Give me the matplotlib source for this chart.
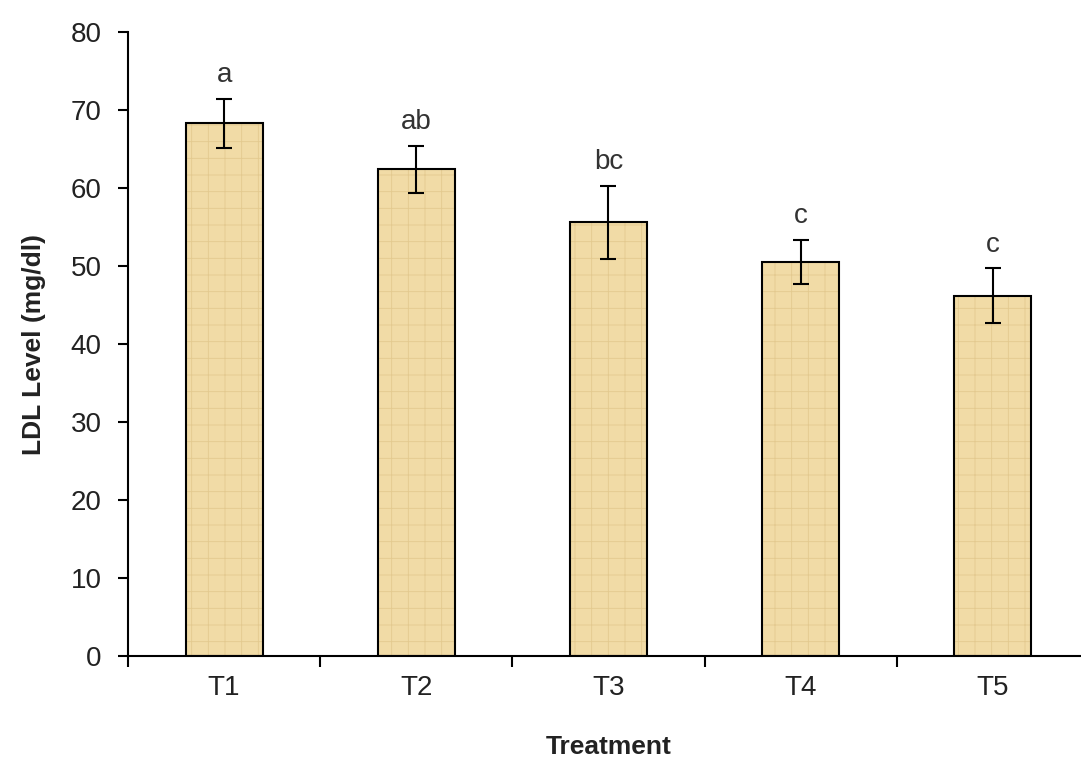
import matplotlib.pyplot as plt
import numpy as np

plt.rcParams['font.family'] = ['Liberation Sans', 'DejaVu Sans']
plt.rcParams['hatch.linewidth'] = 0.6

treatments = ["T1", "T2", "T3", "T4", "T5"]
ldl_mean = [68.3, 62.4, 55.6, 50.5, 46.2]
ldl_se = [3.1, 3.05, 4.7, 2.8, 3.5]
letters = ["a", "ab", "bc", "c", "c"]


def draw_chart():
    fig = plt.figure(figsize=[10.81, 7.66], dpi=100)
    ax = fig.add_axes([0.1184, 0.1436, 0.889, 0.8144])

    x = np.arange(len(treatments))

    # textured fill, then a plain black outline on top
    ax.bar(x, ldl_mean, width=0.4, color='#F1DBA6', edgecolor='#E3C98F',
           hatch='+', linewidth=0, zorder=2)
    ax.bar(x, ldl_mean, width=0.4, color='none', edgecolor='k',
           linewidth=1.5, zorder=3)

    ax.errorbar(x, ldl_mean, yerr=ldl_se, fmt='none', ecolor='k',
                elinewidth=1.5, capsize=6, capthick=1.5, zorder=4)

    for xi, m, s, lab in zip(x, ldl_mean, ldl_se, letters):
        ax.text(xi, m + s + 1.4, lab, ha='center', va='bottom', fontsize=20,
                color='#333333')

    ax.set_xlim(-0.5, 4.5)
    ax.set_ylim(0, 80)
    ax.set_yticks(range(0, 81, 10))

    ax.set_xticks(x)
    ax.set_xticklabels(treatments)
    ax.set_xticks(np.arange(-0.5, 5, 1), minor=True)
    ax.tick_params(axis='x', which='major', length=0, pad=14, labelsize=20,
                   labelcolor='#222222')
    ax.tick_params(axis='x', which='minor', length=8, width=1.5,
                   direction='out')
    ax.tick_params(axis='y', length=7, width=1.5, direction='out',
                   labelsize=20, pad=12, labelcolor='#222222')

    for side in ['top', 'right']:
        ax.spines[side].set_visible(False)
    for side in ['left', 'bottom']:
        ax.spines[side].set_linewidth(1.5)

    ax.set_xlabel("Treatment", fontsize=19, fontweight='bold', labelpad=24,
                  color='#222222')
    ax.set_ylabel("LDL Level (mg/dl)", fontsize=19, fontweight='bold',
                  labelpad=18, color='#222222')

    plt.savefig('out.png', dpi=100)


if __name__ == '__main__':
    draw_chart()
